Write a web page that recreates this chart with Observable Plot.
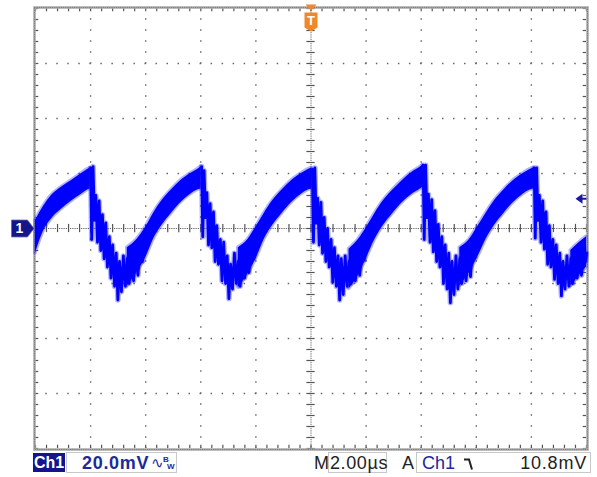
<!DOCTYPE html>
<html><head><meta charset="utf-8">
<script src="https://cdn.jsdelivr.net/npm/d3@7"></script>
<script src="https://cdn.jsdelivr.net/npm/@observablehq/plot@0.6"></script>
<style>
html,body{margin:0;padding:0;background:#fff;}
#wrap{position:relative;width:597px;height:477px;overflow:hidden;font-family:"Liberation Sans","DejaVu Sans",sans-serif;}
#chart{position:absolute;left:0;top:0;}
.st{position:absolute;white-space:nowrap;line-height:1;}
</style></head><body>
<div id="wrap">
  <div id="chart"></div>
  <div class="st" style="left:33px;top:453px;width:32px;height:19px;background:#14148c;"></div>
  <div class="st" style="left:34px;top:455px;color:#fff;font-weight:bold;font-size:16px;">Ch1</div>
  <div class="st" style="left:66px;top:452px;width:109px;height:19px;border:1px solid #c8c8c8;"></div>
  <div class="st" style="left:82px;top:454px;color:#1c2a9c;font-weight:bold;font-size:18px;letter-spacing:0.7px;">20.0mV</div>
  <div class="st" style="left:151px;top:455px;color:#1c2a9c;font-size:15px;">∿</div>
  <div class="st" style="left:163px;top:456px;color:#1c2a9c;font-size:8px;font-weight:bold;">B</div>
  <div class="st" style="left:167px;top:463px;color:#1c2a9c;font-size:8px;font-weight:bold;">W</div>
  <div class="st" style="left:314px;top:454px;color:#222;font-size:18px;">M</div>
  <div class="st" style="left:328px;top:452px;width:57px;height:19px;border:1px solid #c8c8c8;"></div>
  <div class="st" style="left:330px;top:454px;color:#222;font-size:18px;letter-spacing:0.6px;">2.00µs</div>
  <div class="st" style="left:402px;top:454px;color:#222;font-size:18px;">A</div>
  <div class="st" style="left:416px;top:452px;width:173px;height:19px;border:1px solid #c8c8c8;"></div>
  <div class="st" style="left:422px;top:454px;color:#1c2a9c;font-size:18px;">Ch1</div>
  <svg class="st" style="left:463px;top:456px;" width="14" height="16"><path d="M1,3.5 H6 L9,13.5" fill="none" stroke="#222" stroke-width="2"/></svg>
  <div class="st" style="right:10px;top:454px;color:#222;font-size:18px;letter-spacing:0.8px;">10.8mV</div>
</div>
<script>
// Time in µs (2.00 µs/div, trigger at centre), voltage in mV (20.0 mV/div)
const xTicksMajor = [-8, -6, -4, -2, 2, 4, 6, 8];
const yTicksMajor = [-60, -40, -20, 20, 40, 60];
const triggerLevel = 10.8;

// Rising ramps (noisy band: low / high edge)
const ramp0T  = [-10.0, -9.71, -9.42, -9.06, -8.69, -8.33, -8.11, -8.01];
const ramp0Lo = [-9, -1, 3.5, 7, 10, 12.5, 14, 14.5];
const ramp0Hi = [3, 8, 12, 15, 17.5, 20, 21.5, 22];
const ramp1T  = [-6.67, -6.32, -5.97, -5.72, -5.42, -5.07, -4.72, -4.37, -4.12, -3.99];
const ramp1Lo = [-21, -16, -10, -4, 1, 5.5, 9.5, 12.5, 14, 14.5];
const ramp1Hi = [-7, -4, 1, 5.5, 10, 14, 17.5, 20, 21.5, 22.5];
const ramp2T  = [-2.64, -2.29, -1.97, -1.70, -1.40, -1.05, -0.70, -0.35, -0.10, 0.03];
const ramp2Lo = [-21.5, -16.5, -10.5, -4, 1, 5.5, 9.5, 12.5, 14, 14.5];
const ramp2Hi = [-7, -4, 1, 5.5, 10, 14, 17.5, 20, 21.5, 22];
const ramp3T  = [1.38, 1.72, 2.05, 2.32, 2.62, 2.97, 3.32, 3.67, 3.92, 4.05];
const ramp3Lo = [-22, -17, -10, -4, 1, 5.5, 9.5, 12.5, 14, 15];
const ramp3Hi = [-7.5, -4, 1, 5.5, 10, 14, 17.5, 20.5, 22, 23];
const ramp4T  = [5.40, 5.75, 6.07, 6.35, 6.65, 7.00, 7.35, 7.70, 7.95, 8.08];
const ramp4Lo = [-21, -16, -10, -4, 1, 5.5, 9.5, 12.5, 14, 14.5];
const ramp4Hi = [-7, -4, 1, 5.5, 10, 14, 17.5, 20, 21.5, 22];
const ramp5T  = [9.43, 9.75, 10.0];
const ramp5Lo = [-21, -17, -14];
const ramp5Hi = [-8, -5, -3];

// Ringing after each falling edge
const ring1T = [-8.00, -7.96, -7.91, -7.86, -7.81, -7.75, -7.69, -7.63, -7.57, -7.51, -7.45, -7.39, -7.32, -7.26, -7.20, -7.13, -7.07, -7.01, -6.95, -6.88, -6.81, -6.74, -6.67, -6.60, -6.52, -6.44, -6.36, -6.28, -6.20, -6.12, -6.03];
const ring1V = [22, -4, 22.5, 3, 12, -5, 10, -8, 5, -11, 2, -14, -3, -18, -6, -21, -9, -26, -12, -23, -10, -21, -11, -20, -9, -19, -8, -17, -6, -12, -3];
const ring2T = [-3.97, -3.93, -3.88, -3.83, -3.78, -3.72, -3.66, -3.60, -3.54, -3.48, -3.42, -3.36, -3.29, -3.23, -3.17, -3.10, -3.04, -2.98, -2.92, -2.85, -2.78, -2.71, -2.64, -2.57, -2.49, -2.41, -2.33, -2.25, -2.17, -2.09, -2.00];
const ring2V = [22.5, -3, 21, 4, 13, -6, 9, -7, 6, -12, 1, -13, -4, -19, -5, -20, -10, -25.5, -13, -22, -9, -20, -12, -21, -10, -18, -8, -16, -7, -11, -3.5];
const ring3T = [0.05, 0.09, 0.14, 0.19, 0.24, 0.30, 0.36, 0.42, 0.48, 0.54, 0.60, 0.66, 0.73, 0.79, 0.85, 0.92, 0.98, 1.04, 1.10, 1.17, 1.24, 1.31, 1.38, 1.45, 1.53, 1.61, 1.69, 1.77, 1.85, 1.93, 2.02];
const ring3V = [21.5, -5, 22, 2, 11, -6, 9.5, -9, 4, -12, 0, -14, -4, -19.5, -7, -21, -10, -26, -11, -24, -10, -21, -12, -20, -9, -19, -8, -17, -6.5, -11.5, -3];
const ring4T = [4.07, 4.11, 4.16, 4.21, 4.26, 4.32, 4.38, 4.44, 4.50, 4.56, 4.62, 4.68, 4.75, 4.81, 4.87, 4.94, 5.00, 5.06, 5.12, 5.19, 5.26, 5.33, 5.40, 5.47, 5.55, 5.63, 5.71, 5.79, 5.87, 5.95, 6.04];
const ring4V = [23, -4, 23, 4, 12.5, -5, 10.5, -8.5, 6.5, -12, 1.5, -14, -3, -20, -6, -22, -9, -27, -12, -24, -10, -22, -11, -20, -9.5, -19, -8, -17.5, -6, -10.5, -3];
const ring5T = [8.10, 8.14, 8.19, 8.24, 8.29, 8.35, 8.41, 8.47, 8.53, 8.59, 8.65, 8.71, 8.78, 8.84, 8.90, 8.97, 9.03, 9.09, 9.15, 9.22, 9.29, 9.36, 9.43, 9.50, 9.58, 9.66, 9.74, 9.82, 9.90, 9.96, 10.0];
const ring5V = [22, -3.5, 22, 3, 12, -5, 10, -7.5, 6, -13, 1, -14, -4, -18.5, -6, -20, -9, -24.5, -12, -22, -10, -21, -11, -20, -9, -18, -8, -17, -7, -12, -9];

const rampSegs = [[ramp0T, ramp0Lo, ramp0Hi], [ramp1T, ramp1Lo, ramp1Hi], [ramp2T, ramp2Lo, ramp2Hi], [ramp3T, ramp3Lo, ramp3Hi], [ramp4T, ramp4Lo, ramp4Hi], [ramp5T, ramp5Lo, ramp5Hi]];
const ringSegs = [[ring1T, ring1V], [ring2T, ring2V], [ring3T, ring3V], [ring4T, ring4V], [ring5T, ring5V]];
const rampRows = rampSegs.flatMap(([T, L, H], k) => T.map((t, i) => ({t, lo: L[i], hi: H[i], seg: k})));
const ringRows = ringSegs.flatMap(([T, V], k) => T.map((t, i) => ({t, v: V[i], seg: k})));

const minorX = d3.range(-10, 10.001, 0.4);
const minorY = d3.range(-80, 80.001, 4);

// custom marker shapes (pixel paths)
const shield = {draw(c){ c.moveTo(-6.5,-9); c.lineTo(6.5,-9); c.lineTo(6.5,6); c.lineTo(0,10); c.lineTo(-6.5,6); c.closePath();
  c.moveTo(-5.5,-17); c.lineTo(5.5,-17); c.lineTo(0,-11); c.closePath(); }};
const chanTag = {draw(c){ c.moveTo(-24,-8.5); c.lineTo(-8,-8.5); c.lineTo(-1.5,0); c.lineTo(-8,8.5); c.lineTo(-24,8.5); c.closePath(); }};
const levelArrow = {draw(c){ c.moveTo(-11,0); c.lineTo(-4,-5); c.lineTo(-4,5); c.closePath(); c.moveTo(-4,-1); c.lineTo(0,-1); c.lineTo(0,1); c.lineTo(-4,1); c.closePath(); }};

const chart = Plot.plot({
  width: 597, height: 451,
  marginTop: 8, marginBottom: 3, marginLeft: 35, marginRight: 11,
  x: {domain: [-10, 10], axis: null},
  y: {domain: [-80, 80], axis: null},
  style: {background: "#fff", overflow: "visible"},
  marks: [
    Plot.gridX({ticks: xTicksMajor, stroke: "#666", strokeOpacity: 1, strokeWidth: 1.4, strokeDasharray: "1.5,9.5", strokeDashoffset: 0.75}),
    Plot.gridY({ticks: yTicksMajor, stroke: "#666", strokeOpacity: 1, strokeWidth: 1.4, strokeDasharray: "1.5,9.52", strokeDashoffset: 0.75}),
    Plot.gridX({ticks: [0], stroke: "#444", strokeOpacity: 1, strokeWidth: 1, strokeDasharray: "1,1.2"}),
    Plot.gridY({ticks: [0], stroke: "#444", strokeOpacity: 1, strokeWidth: 1, strokeDasharray: "1,1.2"}),
    Plot.gridX({ticks: minorX, y1: -1.5, y2: 1.5, stroke: "#555", strokeOpacity: 1, strokeWidth: 1.2}),
    Plot.gridY({ticks: minorY, x1: -0.15, x2: 0.15, stroke: "#555", strokeOpacity: 1, strokeWidth: 1.2}),
    Plot.gridX({ticks: minorX, y1: 80, y2: 78.8, stroke: "#555", strokeOpacity: 1, strokeWidth: 1.2}),
    Plot.gridX({ticks: minorX, y1: -80, y2: -78.8, stroke: "#555", strokeOpacity: 1, strokeWidth: 1.2}),
    Plot.gridY({ticks: minorY, x1: -10, x2: -9.88, stroke: "#555", strokeOpacity: 1, strokeWidth: 1.2}),
    Plot.gridY({ticks: minorY, x1: 10, x2: 9.88, stroke: "#555", strokeOpacity: 1, strokeWidth: 1.2}),
    Plot.frame({stroke: "#a8a8a8", strokeWidth: 2.5, inset: -1}),
    Plot.frame({stroke: "#777", strokeWidth: 1, inset: -1, strokeDasharray: "1,1.2"}),
    // waveform
    Plot.areaY(rampRows, {x: "t", y1: "lo", y2: "hi", z: "seg", fill: "#0000ff", stroke: "#0000ff", strokeOpacity: 0.3, strokeWidth: 3.5, curve: "monotone-x"}),
    Plot.line(ringRows, {x: "t", y: "v", z: "seg", stroke: "#0000ff", strokeOpacity: 0.3, strokeWidth: 5.5, strokeLinejoin: "round"}),
    Plot.line(ringRows, {x: "t", y: "v", z: "seg", stroke: "#0000ff", strokeWidth: 2.8, strokeLinejoin: "round"}),
    // trigger position marker
    Plot.dot([0], {x: d => d, y: () => 80, dy: 13, symbol: shield, fill: "#f0872a", stroke: null}),
    Plot.text([0], {x: d => d, y: () => 80, dy: 12, text: () => "T", fill: "#fff", fontWeight: "bold", fontSize: 13, fontFamily: "Liberation Sans"}),
    // channel 1 ground marker
    Plot.dot([0], {x: () => -10, y: d => d, symbol: chanTag, fill: "#14148c", stroke: "#6a6ab0", strokeWidth: 0.8}),
    Plot.text([0], {x: () => -10, y: d => d, dx: -16, text: () => "1", fill: "#fff", fontWeight: "bold", fontSize: 14, fontFamily: "Liberation Sans"}),
    // trigger level marker
    Plot.dot([triggerLevel], {x: () => 10, y: d => d, symbol: levelArrow, fill: "#1a1aa0", stroke: null})
  ]
});
document.getElementById("chart").appendChild(chart);
</script>
</body></html>
